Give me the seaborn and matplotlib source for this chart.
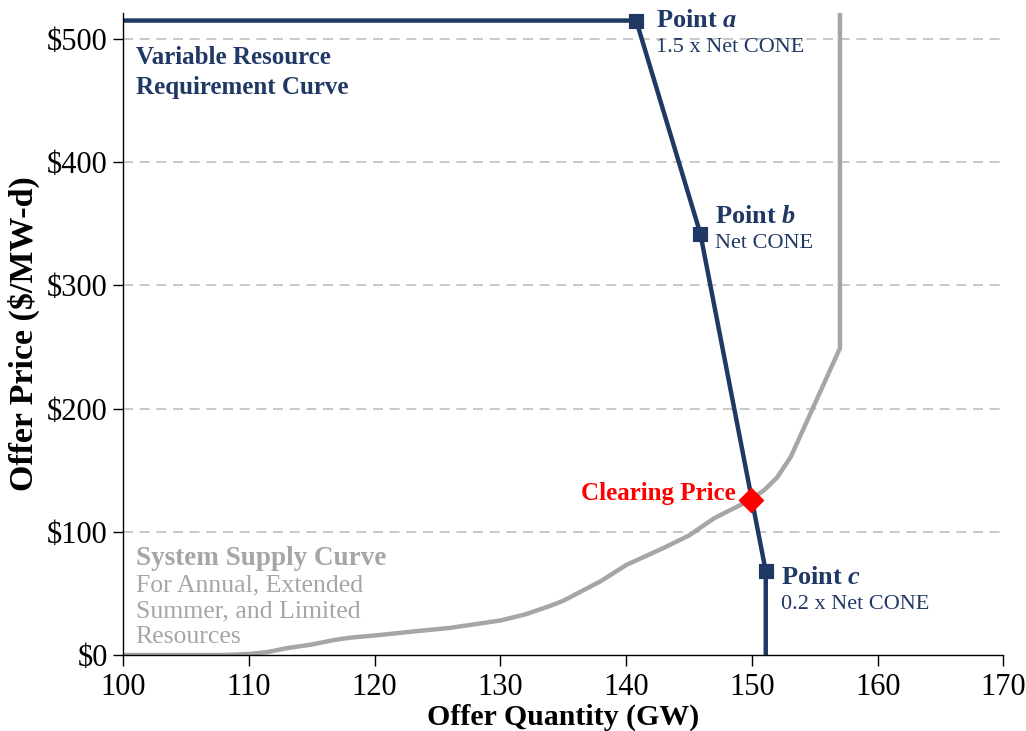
import pandas as pd
import seaborn as sns
import matplotlib.pyplot as plt

# VRR curve (GW, $/MW-d)
vrr_qty = [100.0, 140.8, 145.9, 151.1, 151.1]
vrr_price = [515, 515, 342, 68, 0]
# labelled points a, b, c
pt_names = ["a", "b", "c"]
pt_qty = [140.8, 145.9, 151.1]
pt_price = [515, 342, 68]
pt_notes = ["1.5 x Net CONE", "Net CONE", "0.2 x Net CONE"]

# system supply curve
supply_qty = [100, 108, 110, 111.5, 113, 115, 116.7, 118, 120.2, 123, 126, 128, 130, 132,
              134, 135, 136.5, 138, 140, 143, 145, 147, 149.9, 151, 152, 153.1, 157, 157]
supply_price = [0, 0, 0.8, 2.4, 5.5, 8.5, 12, 14, 16, 19, 22, 25, 28, 33,
                40, 44, 52, 60, 73, 87, 97, 111, 126, 134, 144, 161, 249, 525]

clear_qty = [149.9]
clear_price = [126]

navy = "#1F3864"
grey = "#A6A6A6"

sns.set_style("white")
plt.rcParams["font.family"] = ["Liberation Serif", "DejaVu Serif"]
plt.rcParams["mathtext.fontset"] = "custom"
plt.rcParams["mathtext.it"] = "Liberation Serif:italic:bold"

fig = plt.figure(figsize=(10.26, 7.31), dpi=100)
ax = fig.add_axes([0.12, 0.104, 0.858, 0.878])

df_supply = pd.DataFrame({"qty": supply_qty, "price": supply_price})
df_vrr = pd.DataFrame({"qty": vrr_qty, "price": vrr_price})
sns.lineplot(data=df_supply, x="qty", y="price", sort=False, estimator=None,
             color=grey, lw=3.2, ax=ax)
sns.lineplot(data=df_vrr, x="qty", y="price", sort=False, estimator=None,
             color=navy, lw=3.2, ax=ax)
sns.scatterplot(x=pt_qty, y=pt_price, marker="s", s=110, color=navy, edgecolor=navy,
                zorder=5, ax=ax)
sns.scatterplot(x=clear_qty, y=clear_price, marker="D", s=150, color="red", edgecolor="red",
                zorder=6, ax=ax)

ax.set_xlim(100, 170)
ax.set_ylim(0, 521)
ax.set_xticks(range(100, 171, 10))
ax.set_yticks(range(0, 501, 100))
ax.set_yticklabels([f"${v}" for v in range(0, 501, 100)])
for v in range(100, 501, 100):
    ax.axhline(v, color="#BFBFBF", ls=(0, (6, 4)), lw=1.2, zorder=0)

ax.tick_params(axis="x", direction="out", length=8, labelsize=22, width=1, bottom=True,
               pad=5, colors="black")
ax.tick_params(axis="y", direction="out", length=7, labelsize=22, width=1, left=True,
               pad=4, colors="black")
for s in ["top", "right"]:
    ax.spines[s].set_visible(False)
for s in ["left", "bottom"]:
    ax.spines[s].set_color("black")
    ax.spines[s].set_linewidth(1)

ax.set_xlabel("Offer Quantity (GW)", fontsize=21.5, fontweight="bold", color="black")
ax.xaxis.label.set_va("center")
ax.xaxis.set_label_coords(0.5, -0.097)
ax.set_ylabel("Offer Price ($/MW-d)", fontsize=24.5, fontweight="bold", labelpad=5,
              color="black")

ax.text(101, 484.6, "Variable Resource", color=navy, fontsize=18, fontweight="bold",
        va="center")
ax.text(101, 461, "Requirement Curve", color=navy, fontsize=18, fontweight="bold",
        va="center")

label_y = [515, 356, 63]
note_y = [493, 334, 41]
offsets = [1.6, 1.2, 1.2]
for name, q, note, dx, ly, ny in zip(pt_names, pt_qty, pt_notes, offsets, label_y, note_y):
    ax.text(q + dx, ly, "Point $\\it{" + name + "}$", color=navy, fontsize=19,
            fontweight="bold", va="center")
    ax.text(q + dx, ny, note, color=navy, fontsize=16, va="center")

ax.text(148.7, 130.7, "Clearing Price", color="red", fontsize=18, fontweight="bold",
        ha="right", va="center")

ax.text(101, 78.7, "System Supply Curve", color=grey, fontsize=19.5, fontweight="bold",
        va="center")
supply_note = ["For Annual, Extended", "Summer, and Limited", "Resources"]
for line, yy in zip(supply_note, [56.8, 35.7, 14.6]):
    ax.text(101, yy, line, color=grey, fontsize=18.5, va="center")

fig.savefig("out.png", dpi=100)
